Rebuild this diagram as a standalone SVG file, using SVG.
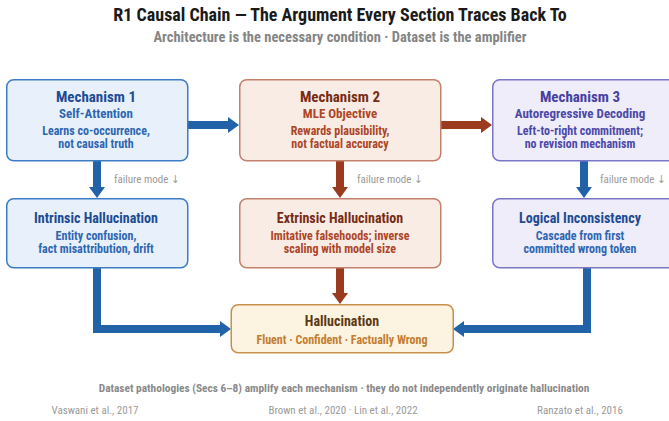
<svg xmlns="http://www.w3.org/2000/svg" width="669" height="421" viewBox="0 0 669 421">
<defs>
<style>
text{font-family:"Liberation Sans Narrow","Arial Narrow","Roboto Condensed","DejaVu Sans Condensed","Liberation Sans",sans-serif;text-anchor:middle;font-weight:bold}
.title{font-size:18px;fill:#1a1a1a}
.sub{font-size:14.5px;fill:#858585}
.h{font-size:15px}
.h2{font-size:14px}
.s{font-size:13px}
.b{font-size:12px}
.fm{font-size:11px;font-weight:normal;fill:#9a9a9a;text-anchor:start}
.foot{font-size:11.4px;fill:#8a8a8a}
.cite{font-size:11px;font-weight:normal;fill:#9a9a9a}
.blue rect{fill:#e8f1fb;stroke:#3d7cc4;stroke-width:1.5}
.red rect{fill:#f9ece5;stroke:#c3806a;stroke-width:1.5}
.pur rect{fill:#eeedf9;stroke:#7c76c6;stroke-width:1.5}
.gold rect{fill:#fcf3e1;stroke:#c98f4c;stroke-width:1.5}
.tb{fill:#1d4c94}.bb{fill:#2e67b2}
.tr{fill:#772c14}.br{fill:#ad4627}
.tp{fill:#4641a0}.bp{fill:#4d49a8}
.tg{fill:#5c3913}.bg{fill:#c37e30}
.cb{fill:none;stroke:#2162a8;stroke-width:8}
.cr{fill:none;stroke:#9b3a1f;stroke-width:8}
</style>
<marker id="hb" markerUnits="userSpaceOnUse" markerWidth="11" markerHeight="16" viewBox="0 0 11 16" refX="0" refY="8" orient="auto"><path d="M0,0 L11,8 L0,16 Z" fill="#2162a8"/></marker>
<marker id="hr" markerUnits="userSpaceOnUse" markerWidth="11" markerHeight="16" viewBox="0 0 11 16" refX="0" refY="8" orient="auto"><path d="M0,0 L11,8 L0,16 Z" fill="#9b3a1f"/></marker>
</defs>
<rect width="669" height="421" fill="#ffffff"/>
<text class="title" x="340" y="21">R1 Causal Chain — The Argument Every Section Traces Back To</text>
<text class="sub" x="340" y="42">Architecture is the necessary condition · Dataset is the amplifier</text>

<g id="connectors">
<path class="cb" d="M188,125 H228" marker-end="url(#hb)"/>
<path class="cr" d="M441,125 H481" marker-end="url(#hr)"/>
<path class="cb" d="M97,161 V187" marker-end="url(#hb)"/>
<path class="cr" d="M340,161 V187" marker-end="url(#hr)"/>
<path class="cb" d="M584,161 V187" marker-end="url(#hb)"/>
<path class="cr" d="M340,268 V293" marker-end="url(#hr)"/>
<path class="cb" d="M97,268 V329 H220" marker-end="url(#hb)"/>
<path class="cb" d="M587,268 V329 H464" marker-end="url(#hb)"/>
<text class="fm" x="114" y="183">failure mode ↓</text>
<text class="fm" x="357" y="183">failure mode ↓</text>
<text class="fm" x="600" y="183">failure mode ↓</text>
</g>

<g id="mech1" class="blue">
<rect x="6.75" y="79.75" width="181" height="81" rx="7"/>
<text class="h tb" x="96" y="102">Mechanism 1</text>
<text class="s bb" x="96" y="118">Self-Attention</text>
<text class="b bb" x="96" y="135">Learns co-occurrence,</text>
<text class="b bb" x="96" y="148">not causal truth</text>
</g>
<g id="mech2" class="red">
<rect x="239.75" y="79.75" width="201" height="81" rx="7"/>
<text class="h tr" x="340" y="102">Mechanism 2</text>
<text class="s br" x="340" y="118">MLE Objective</text>
<text class="b br" x="340" y="135">Rewards plausibility,</text>
<text class="b br" x="340" y="148">not factual accuracy</text>
</g>
<g id="mech3" class="pur">
<rect x="492.75" y="79.75" width="200" height="81" rx="7"/>
<text class="h tp" x="580" y="102">Mechanism 3</text>
<text class="s bp" x="580" y="118">Autoregressive Decoding</text>
<text class="b bp" x="580" y="135">Left-to-right commitment;</text>
<text class="b bp" x="580" y="148">no revision mechanism</text>
</g>
<g id="intrinsic" class="blue">
<rect x="6.75" y="198.75" width="181" height="69" rx="7"/>
<text class="h2 tb" x="96" y="222.5">Intrinsic Hallucination</text>
<text class="b bb" x="96" y="239.5">Entity confusion,</text>
<text class="b bb" x="96" y="252.5">fact misattribution, drift</text>
</g>
<g id="extrinsic" class="red">
<rect x="239.75" y="198.75" width="201" height="69" rx="7"/>
<text class="h2 tr" x="340" y="222.5">Extrinsic Hallucination</text>
<text class="b br" x="340" y="239.5">Imitative falsehoods; inverse</text>
<text class="b br" x="340" y="252.5">scaling with model size</text>
</g>
<g id="logical" class="pur">
<rect x="492.75" y="198.75" width="200" height="69" rx="7"/>
<text class="h2 tb" x="580" y="222.5">Logical Inconsistency</text>
<text class="b bb" x="580" y="239.5">Cascade from first</text>
<text class="b bb" x="580" y="252.5">committed wrong token</text>
</g>
<g id="hallucination" class="gold">
<rect x="231.25" y="304.75" width="222" height="48" rx="7"/>
<text class="h2 tg" x="342" y="325.5">Hallucination</text>
<text class="b bg" x="342" y="343.5">Fluent · Confident · Factually Wrong</text>
</g>

<text class="foot" x="344" y="392">Dataset pathologies (Secs 6–8) amplify each mechanism · they do not independently originate hallucination</text>
<text class="cite" x="95" y="414">Vaswani et al., 2017</text>
<text class="cite" x="343" y="414">Brown et al., 2020 · Lin et al., 2022</text>
<text class="cite" x="580" y="414">Ranzato et al., 2016</text>
</svg>
